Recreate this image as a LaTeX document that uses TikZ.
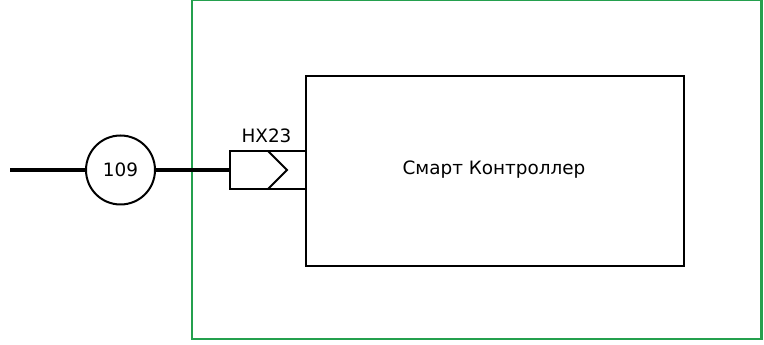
\documentclass[tikz,border=0pt]{standalone}
\usepackage{fontspec}
\setmainfont{DejaVu Sans}
\definecolor{frameg}{RGB}{36,160,78}
\begin{document}
\begin{tikzpicture}[x=0.75pt,y=-0.75pt,
  wire/.style={line width=2.4pt},
  box/.style={draw,line width=1.7pt},
  lbl/.style={font=\fontsize{13.8}{16}\selectfont,inner sep=0pt}]
\useasboundingbox (0,0) rectangle (764,345);
% green frame
\draw[frameg,line width=1.7pt] (192,0) rectangle (761.5,339);
% controller box
\node[box,minimum width=378*0.75pt,minimum height=190*0.75pt,anchor=north west,inner sep=0pt] (ctrl) at (305,75) {};
\node[lbl] (ctrltxt) at (494,170) {Смарт Контроллер};
% connector
\draw[line width=1.5pt] (305,151) -- (230,151) -- (230,189) -- (305,189);
\draw[line width=1.5pt] (268,151) -- (287,170) -- (268,189);
\coordinate (conin) at (230,170);
\node[lbl] (hx) at (266.5,136) {HX23};
% circle
\node[draw,circle,line width=1.5pt,minimum size=69*0.75pt,inner sep=0pt] (c109) at (120.5,170) {};
\node[lbl] (t109) at (120.5,170) {109};
\coordinate (lstart) at (10,170);
\draw[wire] (lstart) -- (c109.west);
\draw[wire] (c109.east) -- (conin);
\end{tikzpicture}
\end{document}
